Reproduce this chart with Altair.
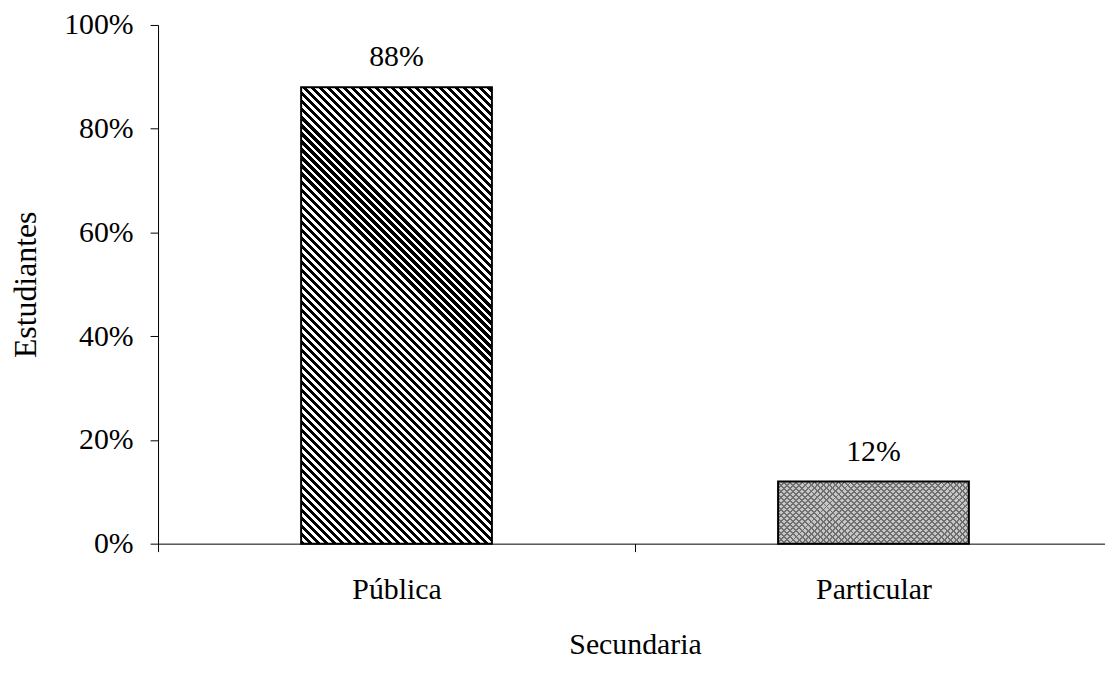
import math
import altair as alt
import pandas as pd

# ---- data ----
categories = ["Pública", "Particular"]
values = [0.88, 0.12]
y_ticks = [0.0, 0.2, 0.4, 0.6, 0.8, 1.0]

df = pd.DataFrame({"Secundaria": categories, "Estudiantes": values})

# ---- layout constants ----
FONT = "Liberation Serif"
FS = 30
VIEW_W = 953
VIEW_H = 522
BAND_RANGE = 960            # the reference's axis runs past the right edge
BAR_FRAC = 0.4
BAR_W = BAND_RANGE / len(categories) * BAR_FRAC


def stripe_fill(w, h, period, dark_w, dark, light, direction):
    """Linear gradient (bbox units) drawing 45-degree stripes."""
    diag = (w + h) / math.sqrt(2)
    s = (w + h) / (w * w + h * h)
    if direction == "back":      # "\" stripes
        x1, y1, x2, y2 = 0, 1, s * w, 1 - s * h
    else:                        # "/" stripes
        x1, y1, x2, y2 = 0, 0, s * w, s * h
    p = period / diag
    d = dark_w / diag
    stops = []
    k = 0
    while k * p < 1:
        a = k * p
        b = min(a + d, 1)
        c = min(a + p, 1)
        stops += [
            {"color": dark, "offset": round(a, 6)},
            {"color": dark, "offset": round(b, 6)},
            {"color": light, "offset": round(b, 6)},
            {"color": light, "offset": round(c, 6)},
        ]
        k += 1
    return {"gradient": "linear", "x1": x1, "y1": y1, "x2": x2, "y2": y2,
            "stops": stops}


h_pub = values[0] * VIEW_H
h_par = values[1] * VIEW_H

hatch_pub = stripe_fill(BAR_W, h_pub, 5.7, 2.9, "#000000", "#ffffff", "back")
cross_a = stripe_fill(BAR_W, h_par, 4.3, 1.4, "#707070", "rgba(255,255,255,0)", "fwd")
cross_b = stripe_fill(BAR_W, h_par, 4.3, 1.4, "#707070", "rgba(255,255,255,0)", "back")

x_enc = alt.X(
    "Secundaria:N",
    sort=categories,
    scale=alt.Scale(range=[0, BAND_RANGE], paddingInner=0, paddingOuter=0),
    axis=alt.Axis(
        title="Secundaria",
        labelAngle=0,
        tickBand="extent",
        tickSize=8,
        tickColor="black",
        domainColor="black",
        labelFont=FONT, labelFontSize=FS, labelColor="black",
        labelBaseline="alphabetic", labelPadding=47,
        titleFont=FONT, titleFontSize=FS, titleFontWeight="normal",
        titleColor="black", titleBaseline="alphabetic",
        titleX=BAND_RANGE / 2, titleY=111, titleAlign="center",
        grid=False,
    ),
)
y_enc = alt.Y(
    "Estudiantes:Q",
    scale=alt.Scale(domain=[0, 1]),
    axis=alt.Axis(
        title="Estudiantes",
        values=y_ticks,
        format=".0%",
        tickSize=8,
        tickColor="black",
        domainColor="black",
        labelFont=FONT, labelFontSize=FS, labelColor="black",
        labelPadding=17,
        titleFont=FONT, titleFontSize=32, titleFontWeight="normal",
        titleColor="black", titleAngle=-90, titleBaseline="alphabetic",
        titleAlign="center", titleX=-123, titleY=VIEW_H / 2,
        grid=False,
    ),
)

base = alt.Chart(df).encode(x=x_enc, y=y_enc)
bw = alt.RelativeBandSize(band=BAR_FRAC)

bar_pub = base.transform_filter(alt.datum.Secundaria == categories[0]).mark_bar(
    width=bw, fill=hatch_pub, stroke="black", strokeWidth=2
)
bar_par = base.transform_filter(alt.datum.Secundaria == categories[1]).mark_bar(
    width=bw, fill="#c6c6c6"
)
bar_par_a = base.transform_filter(alt.datum.Secundaria == categories[1]).mark_bar(
    width=bw, fill=cross_a
)
bar_par_b = base.transform_filter(alt.datum.Secundaria == categories[1]).mark_bar(
    width=bw, fill=cross_b, stroke="black", strokeWidth=2
)
labels = base.mark_text(
    font=FONT, fontSize=FS, color="black", baseline="alphabetic", dy=-21
).encode(text=alt.Text("Estudiantes:Q", format=".0%"))

chart = (
    alt.layer(bar_pub, bar_par, bar_par_a, bar_par_b, labels)
    .properties(
        width=VIEW_W,
        height=VIEW_H,
        background="white",
        autosize=alt.AutoSizeParams(type="none"),
        padding={"left": 151, "top": 15, "right": 0, "bottom": 114},
    )
    .configure_view(stroke="transparent", strokeWidth=0)
)

chart.save("out.html", embed_options={"renderer": "svg", "actions": False})
